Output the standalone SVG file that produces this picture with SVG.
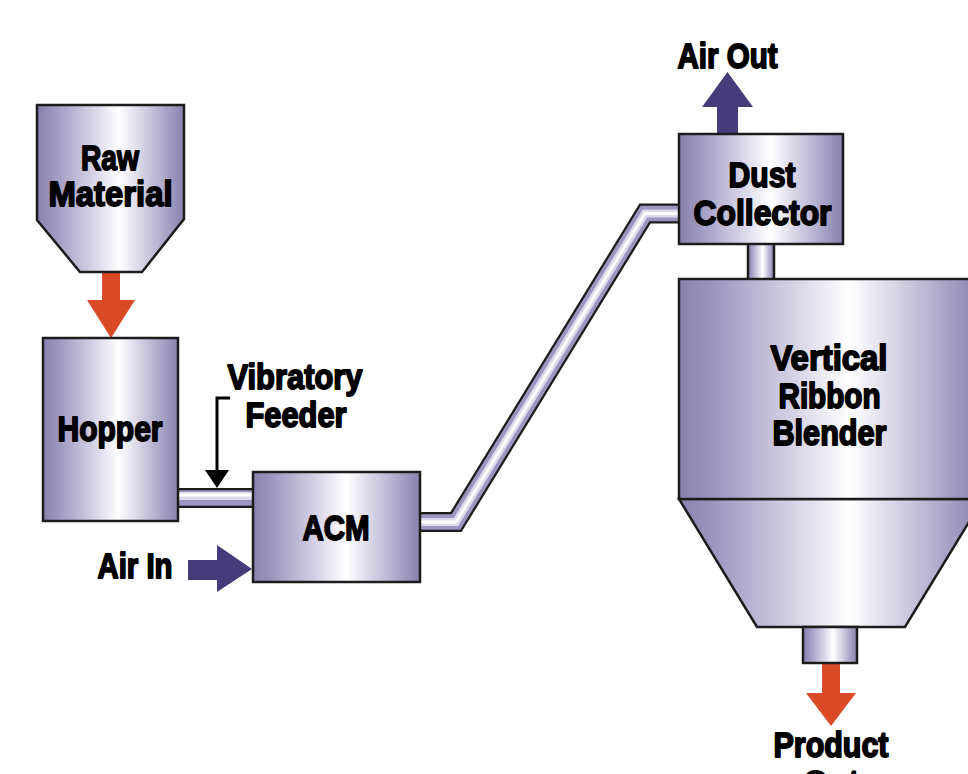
<svg xmlns="http://www.w3.org/2000/svg" width="968" height="774" viewBox="0 0 968 774">
<defs>
<linearGradient id="metal" x1="0" y1="0" x2="1" y2="0">
<stop offset="0" stop-color="#8781ad"/>
<stop offset="0.12" stop-color="#9e98c0"/>
<stop offset="0.35" stop-color="#cfcce2"/>
<stop offset="0.56" stop-color="#ffffff"/>
<stop offset="0.78" stop-color="#c4c0da"/>
<stop offset="1" stop-color="#8781ad"/>
</linearGradient>
</defs>
<style>
.body{fill:url(#metal);stroke:#1c1c1c;stroke-width:2.5;stroke-linejoin:miter}
.lbl{font-family:"Liberation Sans",Arial,sans-serif;font-weight:bold;font-size:35px;fill:#000;stroke:#000;stroke-width:1.8;stroke-linejoin:round;text-anchor:middle}
.pipeO{fill:none;stroke:#1c1c1c;stroke-width:20;stroke-linejoin:miter}
.pipeM{fill:none;stroke:#9b95bf;stroke-width:15.5;stroke-linejoin:miter}
.pipeL{fill:none;stroke:#dcd9ec;stroke-width:8;stroke-linejoin:miter}
.pipeH{fill:none;stroke:#ffffff;stroke-width:3;stroke-linejoin:miter}
.red{fill:#db4a27}
.blue{fill:#463c7a}
</style>
<rect width="968" height="774" fill="#ffffff"/>
<g id="connectors">
<g id="pipe-feeder">
<polyline class="pipeO" points="176,498 255,498"/>
<polyline class="pipeM" points="176,498 255,498"/>
<polyline class="pipeL" points="176,496 255,496"/>
<polyline class="pipeH" points="176,495 255,495"/>
</g>
<g id="pipe-acm-dust">
<polyline class="pipeO" points="418,522 456,522 645,213.5 681,213.5"/>
<polyline class="pipeM" points="418,522 456,522 645,213.5 681,213.5"/>
<polyline class="pipeL" points="418,522 456,522 645,213.5 681,213.5"/>
<polyline class="pipeH" points="418,522 456,522 645,213.5 681,213.5"/>
</g>
<rect id="pipe-dust-blender" class="body" x="748" y="243" width="26" height="37"/>
<polygon id="arrow-raw-hopper" class="red" points="102,272 120,272 120,300 135,300 111,338 87,300 102,300"/>
<polygon id="arrow-product-out" class="red" points="822,663 840,663 840,693 856,693 831,726 806,693 822,693"/>
<polygon id="arrow-air-in" class="blue" points="188,560 217,560 217,545 252,569 217,592 217,580 188,580"/>
<polygon id="arrow-air-out" class="blue" points="717,134 738,134 738,107 753,107 727.5,72 702,107 717,107"/>
<g id="feeder-pointer">
<polyline points="230,398 217,398 217,474" fill="none" stroke="#000" stroke-width="3"/>
<polygon points="205,470 229,470 217,488" fill="#000"/>
</g>
</g>
<g id="raw-material">
<polygon class="body" points="37,105 184,105 184,219 142,272 80,272 37,220"/>
<text class="lbl" x="110" y="170" textLength="58" lengthAdjust="spacingAndGlyphs">Raw</text>
<text class="lbl" x="110.5" y="206" textLength="124" lengthAdjust="spacingAndGlyphs">Material</text>
</g>
<g id="hopper">
<rect class="body" x="43" y="338" width="135" height="183"/>
<text class="lbl" x="110" y="441" textLength="105" lengthAdjust="spacingAndGlyphs">Hopper</text>
</g>
<g id="vibratory-feeder-label">
<text class="lbl" x="295" y="389" textLength="135" lengthAdjust="spacingAndGlyphs">Vibratory</text>
<text class="lbl" x="296" y="427" textLength="101" lengthAdjust="spacingAndGlyphs">Feeder</text>
</g>
<g id="acm">
<rect class="body" x="253" y="472" width="167" height="110"/>
<text class="lbl" x="336" y="540" textLength="67" lengthAdjust="spacingAndGlyphs">ACM</text>
</g>
<g id="air-in-label">
<text class="lbl" x="135" y="578" textLength="75" lengthAdjust="spacingAndGlyphs">Air In</text>
</g>
<g id="air-out-label">
<text class="lbl" x="727.5" y="68" textLength="100" lengthAdjust="spacingAndGlyphs">Air Out</text>
</g>
<g id="dust-collector">
<rect class="body" x="679" y="134" width="164" height="110"/>
<text class="lbl" x="762" y="187" textLength="67" lengthAdjust="spacingAndGlyphs">Dust</text>
<text class="lbl" x="762.5" y="225" textLength="138" lengthAdjust="spacingAndGlyphs">Collector</text>
</g>
<g id="blender">
<polygon class="body" points="679,499 983,499 905,627 757,627"/>
<rect class="body" x="679" y="279" width="304" height="220"/>
<rect class="body" x="803" y="627" width="54" height="36"/>
<text class="lbl" x="829" y="370" textLength="117" lengthAdjust="spacingAndGlyphs">Vertical</text>
<text class="lbl" x="829.5" y="408" textLength="102" lengthAdjust="spacingAndGlyphs">Ribbon</text>
<text class="lbl" x="829.5" y="445" textLength="114" lengthAdjust="spacingAndGlyphs">Blender</text>
</g>
<g id="product-out-label">
<text class="lbl" x="831" y="757" textLength="115" lengthAdjust="spacingAndGlyphs">Product</text>
<text class="lbl" x="831" y="795" textLength="56" lengthAdjust="spacingAndGlyphs">Out</text>
</g>
</svg>
